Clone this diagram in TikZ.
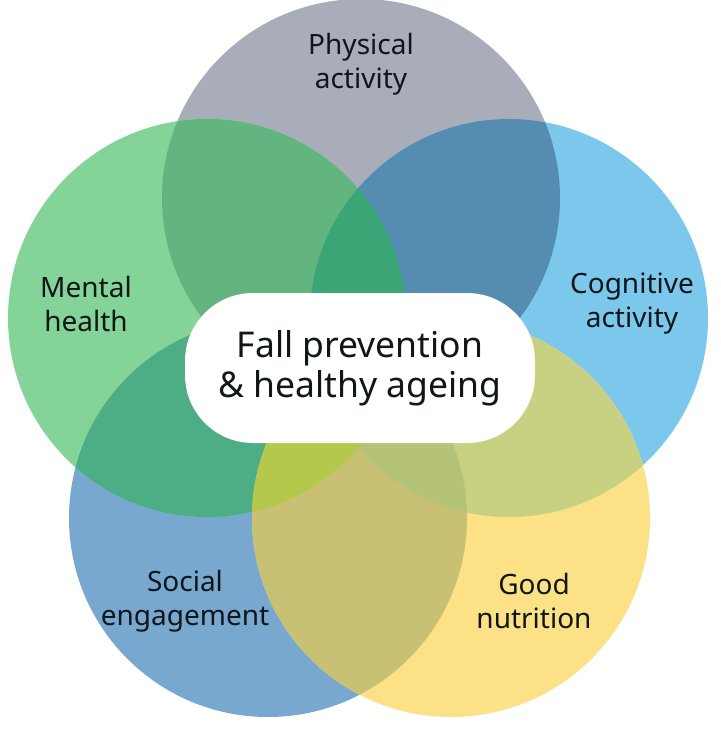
\documentclass[tikz,border=0pt]{standalone}
\usepackage{fontspec}
\setmainfont{Noto Sans}
\definecolor{cgray}{HTML}{A9ADB9}
\definecolor{cgreen}{HTML}{84D399}
\definecolor{clblue}{HTML}{7CC8ED}
\definecolor{cblue}{HTML}{78A8D0}
\definecolor{cyellow}{HTML}{FCE187}
\definecolor{cgraygreen}{HTML}{62B57F}
\definecolor{cgraylblue}{HTML}{558CB2}
\definecolor{cgreenlblue}{HTML}{4FAE9F}
\definecolor{cgreenblue}{HTML}{4DAE85}
\definecolor{cblueyellow}{HTML}{C8C073}
\definecolor{clblueyellow}{HTML}{C8D082}
\definecolor{cbluelblue}{HTML}{5A9AC8}
\definecolor{cgreenyellow}{HTML}{B4C84B}
\definecolor{cggl}{HTML}{3CA575}
\definecolor{cgby}{HTML}{B4C84B}
\definecolor{cbyl}{HTML}{B4C378}
\definecolor{ctext}{HTML}{111618}
\newcommand\myR{199}
\newcommand\pairfill[3]{\begin{scope}\clip (#1) circle (\myR); \fill[#3] (#2) circle (\myR);\end{scope}}
\newcommand\tripfill[4]{\begin{scope}\clip (#1) circle (\myR); \clip (#2) circle (\myR); \fill[#4] (#3) circle (\myR);\end{scope}}
\tikzset{
  lbl/.style={align=center, text=ctext, font=\fontsize{28}{34}\selectfont, inner sep=0pt},
  pill/.style={fill=white, rounded corners=68pt, minimum width=350pt, minimum height=150pt, align=center, text=ctext, font=\fontsize{35.5}{40}\selectfont}
}
\begin{document}
\begin{tikzpicture}[x=1pt,y=-1pt]
\useasboundingbox (0,0) rectangle (720,730);
\coordinate (cP) at (361,198);
\coordinate (cM) at (207,318);
\coordinate (cC) at (509,318);
\coordinate (cS) at (268,518);
\coordinate (cN) at (451,518);
% single circles
\fill[cgray] (cP) circle (\myR);
\fill[clblue] (cC) circle (\myR);
\fill[cblue] (cS) circle (\myR);
\fill[cgreen] (cM) circle (\myR);
\fill[cyellow] (cN) circle (\myR);
% pairwise overlaps
\pairfill{cP}{cM}{cgraygreen}
\pairfill{cP}{cC}{cgraylblue}
\pairfill{cM}{cC}{cgreenlblue}
\pairfill{cS}{cC}{cbluelblue}
\pairfill{cM}{cS}{cgreenblue}
\pairfill{cS}{cN}{cblueyellow}
\pairfill{cC}{cN}{clblueyellow}
\pairfill{cM}{cN}{cgreenyellow}
% triple overlaps
\tripfill{cP}{cM}{cC}{cggl}
\tripfill{cS}{cC}{cN}{cbyl}
\tripfill{cM}{cS}{cN}{cgby}
% labels
\node[lbl] (phys) at (361,64) {Physical\\activity};
\node[lbl] (ment) at (86,304) {Mental\\health};
\node[lbl] (cogn) at (632,304) {Cognitive\\activity};
\node[lbl] (soc) at (185,601) {Social\\engagement};
\node[lbl] (nutr) at (534,601) {Good\\nutrition};
\node[pill] (ctr) at (360,368) {Fall prevention\\\& healthy ageing};
\end{tikzpicture}
\end{document}
